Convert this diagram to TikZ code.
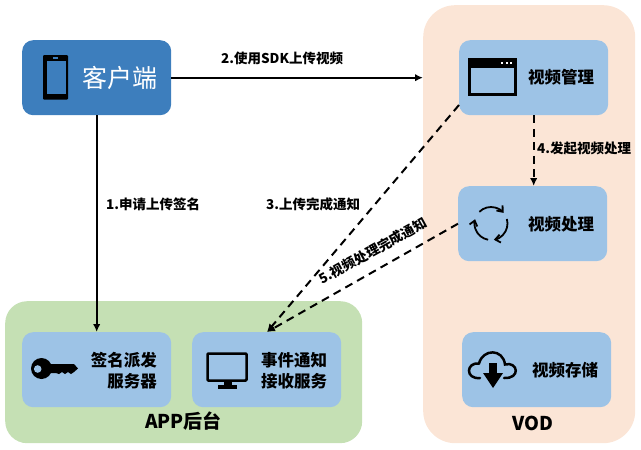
\documentclass[tikz,border=0pt]{standalone}
\usepackage{fontspec}
\setmainfont{Noto Sans CJK SC}
\usepackage{tikz}
\usetikzlibrary{arrows.meta,calc,positioning}
\definecolor{zonevod}{HTML}{FBE5D6}
\definecolor{zoneapp}{HTML}{C5E0B4}
\definecolor{fillclient}{HTML}{3D7EBD}
\definecolor{fillsvc}{HTML}{9DC3E6}
\tikzset{
  svc/.style={fill=fillsvc, rounded corners=11pt, minimum width=149pt, minimum height=75pt,
    inner sep=0pt, anchor=north west},
  zone/.style={inner sep=0pt, anchor=north west},
  svclbl/.style={font=\fontsize{16.5}{21}\selectfont\bfseries, align=right, inner sep=0pt},
  zonelbl/.style={font=\fontsize{19}{23}\selectfont\bfseries, inner sep=0pt},
  lbl/.style={font=\fontsize{13.5}{16}\selectfont\bfseries, inner sep=0pt, anchor=west},
  arr/.style={-{Latex[length=8pt,width=7.5pt]}, line width=2pt, draw=black},
  dasharr/.style={-{Latex[length=8pt,width=7.5pt]}, line width=2pt, draw=black, dash pattern=on 8pt off 5.5pt},
  icon/.style={fill=black, draw=none},
  iconarc/.style={-{Straight Barb[length=5pt,width=8pt]}, line width=1.8pt},
}
\begin{document}
\begin{tikzpicture}[x=1pt, y=-1pt]
\useasboundingbox (0,0) rectangle (641,450);

%% zones
\node[zone, fill=zonevod, rounded corners=32pt, minimum width=212pt, minimum height=438pt] (vod) at (423,5) {};
\node[zone, fill=zoneapp, rounded corners=22pt, minimum width=357pt, minimum height=142pt] (app) at (5,301) {};
\node[zonelbl] (vod_lbl) at (533,423) {VOD};
\node[zonelbl] (app_lbl) at (183.5,421.5) {APP后台};

%% boxes
\node[svc, fill=fillclient] (client) at (22,40) {};
\node[svc] (mgmt) at (459,40) {};
\node[svc] (proc) at (458,186) {};
\node[svc] (store) at (462,332) {};
\node[svc] (sign) at (22,332) {};
\node[svc] (event) at (192,332) {};

\node[inner sep=0pt, text=white, font=\fontsize{25}{29}\selectfont] (client_lbl) at (120,78) {客户端};
\node[svclbl] (mgmt_lbl) at (561,77.5) {视频管理};
\node[svclbl] (proc_lbl) at (561,224) {视频处理};
\node[svclbl] (store_lbl) at (565,370) {视频存储};
\node[svclbl, anchor=east] (sign_lbl) at (157,371) {签名派发\\服务器};
\node[svclbl, align=left, anchor=west] (event_lbl) at (261,371) {事件通知\\接收服务};

%% phone
\fill[icon, rounded corners=1pt] (43,55) rectangle (68,99.5);
\fill[fillclient] (46.7,61) rectangle (65.5,94);
\fill[fillclient] (53,57.3) rectangle (58,59);

%% window
\draw[line width=3pt] (469.5,60) rectangle (515.5,94.5);
\fill[icon] (468,58) rectangle (517,68);
\foreach \dx in {501,505.5,510} {
  \fill[white] (\dx,62) rectangle ++(2,2);
}

%% refresh
\foreach \sa/\ea in {135/40, 260/165, 16/-80} {
  \draw[iconarc] ([shift={(\sa:16.5pt)}]491,223.5) arc[start angle=\sa, end angle=\ea, radius=16.5pt];
}

%% key
\fill[icon] (41.5,368.5) circle (10.5pt);
\fill[icon] (48,364) -- (74,364) -- (78,368.5) -- (74,372) -- (71,374) -- (68,372) -- (65,374) -- (62,372) -- (59,374) -- (56,373) -- (48,373) -- cycle;
\fill[fillsvc] (37.7,369) circle (3.8pt);

%% monitor
\draw[line width=2.5pt, rounded corners=1pt] (207.5,353.5) rectangle (246.5,380.5);
\fill[icon] (223.5,380) rectangle (231.5,386);
\fill[icon] (218,385) rectangle (237,388.5);

%% cloud
\draw[line width=2.5pt, line cap=round] (480,378) .. controls (465,379.5) and (466,362) .. (479,363.5)
  .. controls (483,348.5) and (503,348.5) .. (505,364.5)
  .. controls (518,361) and (521,379) .. (504,378);
\fill[icon] (489,363) rectangle (497,374);
\fill[icon] (483,373) -- (503,373) -- (493,388) -- cycle;

%% connectors
\draw[arr] (client.east) -- node[lbl, above=12pt, pos=0.44] (l2) {2.使用SDK上传视频} (vod.west |- client.east);
\draw[arr] (client.south) -- (sign.north);
\draw[dasharr] (mgmt.south) -- (mgmt.south |- proc.north);
\coordinate (mgmt_sw) at (459,105);
\coordinate (event_n) at (267,332);
\draw[dasharr] (mgmt_sw) -- (event_n);
\draw[dasharr] (proc.west) -- (event_n);
\node[lbl] (l1) at (106,204.5) {1.申请上传签名};
\node[lbl] (l3) at (266,204.5) {3.上传完成通知};
\node[lbl] (l4) at (537,148.5) {4.发起视频处理};
\node[lbl, rotate=29, anchor=center] (l5) at (373,251) {5.视频处理完成通知};

\end{tikzpicture}
\end{document}
